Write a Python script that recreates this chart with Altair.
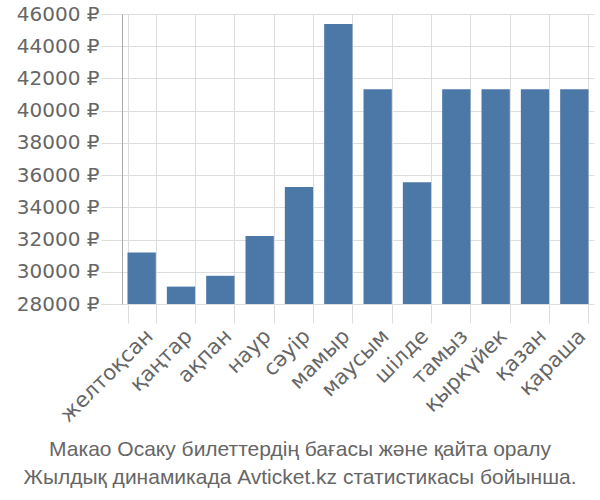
import altair as alt
import pandas as pd

months = ["желтоқсан", "қаңтар", "ақпан", "наур", "сәуір", "мамыр",
          "маусым", "шілде", "тамыз", "қыркүйек", "қазан", "қараша"]
prices = [31200, 29080, 29750, 32220, 35260, 45380,
          41330, 35560, 41330, 41330, 41330, 41330]
y_ticks = [28000, 30000, 32000, 34000, 36000, 38000, 40000, 42000, 44000, 46000]
title_lines = ["Макао Осаку билеттердің бағасы және қайта оралу",
               "Жылдық динамикада Avticket.kz статистикасы бойынша."]

df = pd.DataFrame({"month": months, "price": prices})

chart = alt.Chart(df).mark_bar(color="#4c78a8").encode(
    x=alt.X("month:N", sort=months, title=None,
            scale=alt.Scale(paddingInner=0.28, paddingOuter=0.14),
            axis=alt.Axis(labelAngle=-45, labelAlign="right", labelBaseline="top",
                          tickBand="extent", tickSize=19, tickColor="#dddddd",
                          domain=False, grid=True, gridColor="#dddddd",
                          labelFont="DejaVu Sans", labelFontSize=21,
                          labelColor="#666666", labelPadding=2)),
    y=alt.Y("price:Q", title=None,
            scale=alt.Scale(domain=[28000, 46000], zero=False, nice=False),
            axis=alt.Axis(values=y_ticks, labelExpr="datum.value + ' ₽'",
                          tickSize=21, tickColor="#dddddd", grid=True,
                          gridColor="#dddddd", domainColor="#aaaaaa",
                          labelFont="DejaVu Sans", labelFontSize=20,
                          labelColor="#666666", labelPadding=2)),
    y2=alt.datum(28000),
).properties(
    width=472, height=290,
    padding={"left": 122, "top": 14, "right": 6, "bottom": 196},
    autosize=alt.AutoSizeParams(type="none"),
    title=alt.TitleParams(text=title_lines, orient="bottom", anchor="middle",
                          font="Liberation Sans", fontSize=21, fontWeight="normal",
                          color="#666666", lineHeight=28, offset=13, dx=-58),
).configure_view(stroke=None)

chart.save("out.html", embed_options={"renderer": "svg", "actions": False})
